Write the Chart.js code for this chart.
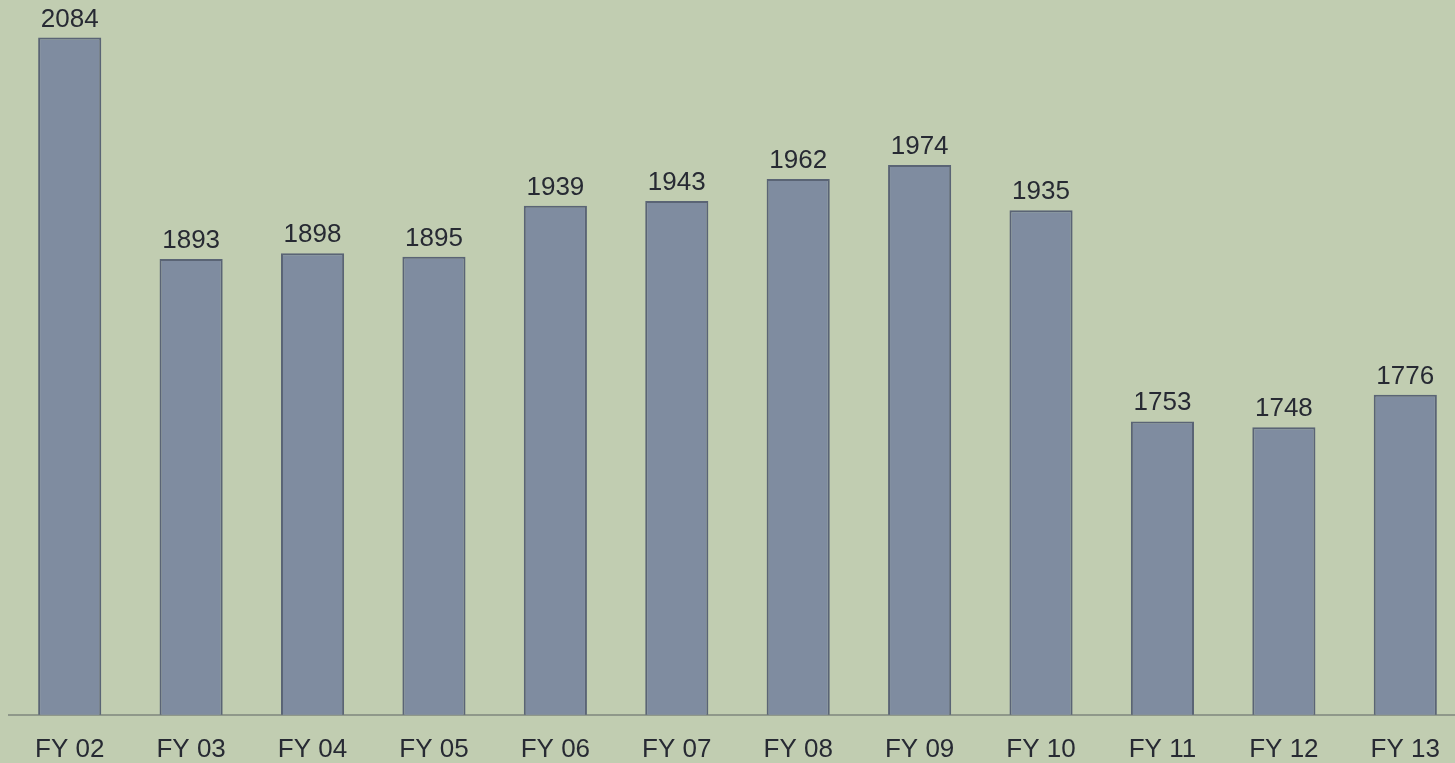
<!DOCTYPE html>
<html>
<head>
<meta charset="utf-8">
<script src="https://cdn.jsdelivr.net/npm/chart.js@4"></script>
<style>
  html, body { margin: 0; padding: 0; background: #c1cdb1; overflow: hidden; }
  #wrap { position: relative; width: 1466px; height: 785px; }
</style>
</head>
<body>
<div id="wrap"><canvas id="barChart"></canvas></div>
<script>
const categories = ["FY 02", "FY 03", "FY 04", "FY 05", "FY 06", "FY 07", "FY 08", "FY 09", "FY 10", "FY 11", "FY 12", "FY 13"];
const values = [2084, 1893, 1898, 1895, 1939, 1943, 1962, 1974, 1935, 1753, 1748, 1776];

const textColor = "#272a33";
const fontFamily = "'Liberation Sans', Arial, sans-serif";

// draws the number above each bar
const valueLabels = {
    id: "valueLabels",
    afterDatasetsDraw(chart) {
        const c = chart.ctx;
        const meta = chart.getDatasetMeta(0);
        c.save();
        c.fillStyle = textColor;
        c.font = `26px ${fontFamily}`;
        c.textAlign = "center";
        c.textBaseline = "alphabetic";
        meta.data.forEach((bar, i) => {
            c.fillText(String(values[i]), bar.x, bar.y - 11);
        });
        c.restore();
    }
};

const ctx = document.getElementById("barChart");
new Chart(ctx, {
    type: "bar",
    data: {
        labels: categories,
        datasets: [{
            data: values,
            backgroundColor: "#7f8ca0",
            borderColor: "#5a6475",
            borderWidth: 2,
            borderSkipped: "bottom",
            categoryPercentage: 1,
            barPercentage: 0.52
        }]
    },
    options: {
        responsive: true,
        maintainAspectRatio: false,
        animation: false,
        layout: { padding: { left: 9, right: 0, top: 19, bottom: 1 } },
        plugins: {
            legend: { display: false },
            tooltip: { enabled: false }
        },
        scales: {
            x: {
                grid: { display: false, drawTicks: false },
                border: { display: true, color: "#8f988a", width: 2 },
                ticks: {
                    color: textColor,
                    font: { family: fontFamily, size: 26 },
                    padding: 19
                }
            },
            y: {
                display: false,
                min: 1500,
                max: 2100
            }
        }
    },
    plugins: [valueLabels]
});
</script>
</body>
</html>
